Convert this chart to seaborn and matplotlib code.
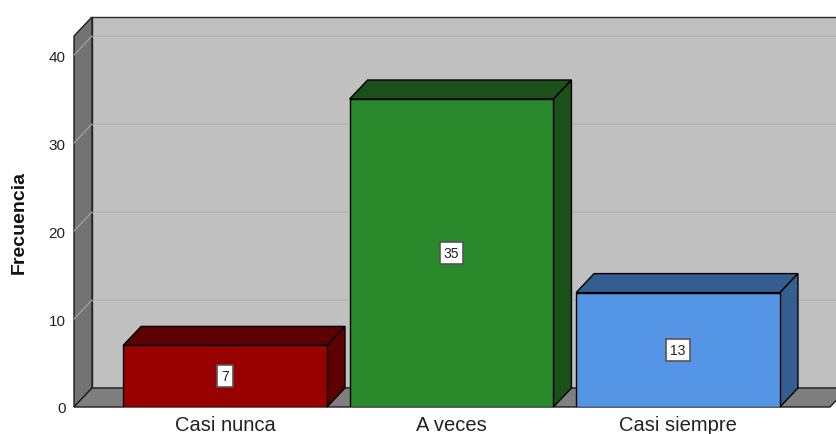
import matplotlib
matplotlib.use("Agg")
import matplotlib.pyplot as plt
from matplotlib.patches import Polygon
import seaborn as sns
import pandas as pd

categories = ["Casi nunca", "A veces", "Casi siempre"]
counts = [7, 35, 13]
front_colors = ["#990000", "#2a8a2b", "#5595e5"]
side_colors = ["#5c0000", "#1b501b", "#345d90"]
yticks = [0, 10, 20, 30, 40]

sns.set_theme(style="white")
plt.rcParams['font.family'] = ['Liberation Sans', 'DejaVu Sans']

W, H = 837, 435
fig = plt.figure(figsize=(W / 100, H / 100), dpi=100)
ax = fig.add_axes([74 / W, 27 / H, 756 / W, 371 / H])

xmin, xmax = -0.667, 2.671
ymin, ymax = 0, 42.16
dx = 18 / 226.5
dy = 19 / 8.8

df = pd.DataFrame({"cat": categories, "n": counts})
sns.barplot(data=df, x="cat", y="n", hue="cat", palette=front_colors,
            width=0.9, saturation=1, edgecolor="black", linewidth=1.0,
            legend=False, ax=ax)

ax.set_xlim(xmin, xmax)
ax.set_ylim(ymin, ymax)
ax.patch.set_visible(False)
for s in ax.spines.values():
    s.set_visible(False)

# walls
back = Polygon([(xmin + dx, dy), (xmax + dx, dy), (xmax + dx, ymax + dy), (xmin + dx, ymax + dy)],
               closed=True, facecolor="#c0c0c0", edgecolor="#2a2a2a", linewidth=1.0,
               zorder=0.5, clip_on=False)
ax.add_patch(back)
left = Polygon([(xmin, 0), (xmin, ymax), (xmin + dx, ymax + dy), (xmin + dx, dy)],
               closed=True, facecolor="#737373", edgecolor="#1e1e1e", linewidth=1.0,
               zorder=0.8, clip_on=False)
ax.add_patch(left)
floor = Polygon([(xmin, 0), (xmax, 0), (xmax + dx, dy), (xmin + dx, dy)],
                closed=True, facecolor="#7f7f7f", edgecolor="#1e1e1e", linewidth=1.0,
                zorder=0.9, clip_on=False)
ax.add_patch(floor)

for t in yticks[1:]:
    ax.plot([xmin + dx, xmax + dx], [t + dy, t + dy], color="#b0b0b0", lw=1.0,
            zorder=0.6, clip_on=False)
    ax.plot([xmin + dx, xmax + dx], [t + dy - 0.12, t + dy - 0.12], color="#c9c9c9", lw=0.8,
            zorder=0.59, clip_on=False)
    ax.plot([xmin, xmin + dx], [t, t + dy], color="#a0a0a0", lw=0.9,
            zorder=0.85, clip_on=False)

# 3D faces of bars
for p, sc, v in zip(ax.patches[:len(counts)], side_colors, counts):
    p.set_zorder(3)
    x0 = p.get_x()
    w = p.get_width()
    h = p.get_height()
    top = Polygon([(x0, h), (x0 + w, h), (x0 + w + dx, h + dy), (x0 + dx, h + dy)],
                  closed=True, facecolor=sc, edgecolor="black", linewidth=1.0,
                  zorder=2.5, clip_on=False)
    side = Polygon([(x0 + w, 0), (x0 + w + dx, dy), (x0 + w + dx, h + dy), (x0 + w, h)],
                   closed=True, facecolor=sc, edgecolor="black", linewidth=1.0,
                   zorder=2.5, clip_on=False)
    ax.add_patch(top)
    ax.add_patch(side)
    ax.text(x0 + w / 2, h / 2, str(v), ha="center", va="center", fontsize=10,
            color="#222222", zorder=4,
            bbox=dict(boxstyle="square,pad=0.3", facecolor="white",
                      edgecolor="#555555", linewidth=1.2))

ax.set_yticks(yticks)
ax.set_yticklabels([str(t) for t in yticks])
ax.tick_params(axis="y", length=0, pad=6, labelsize=11, labelcolor="#222222")
ax.tick_params(axis="x", length=0, pad=5.5, labelsize=14.5, labelcolor="#222222")
ax.set_xlabel("")
ax.set_ylabel("Frecuencia", fontsize=14, fontweight="bold", color="#111111")
ax.yaxis.set_label_coords(-0.061, 0.50)

fig.savefig("out.png", dpi=100)
